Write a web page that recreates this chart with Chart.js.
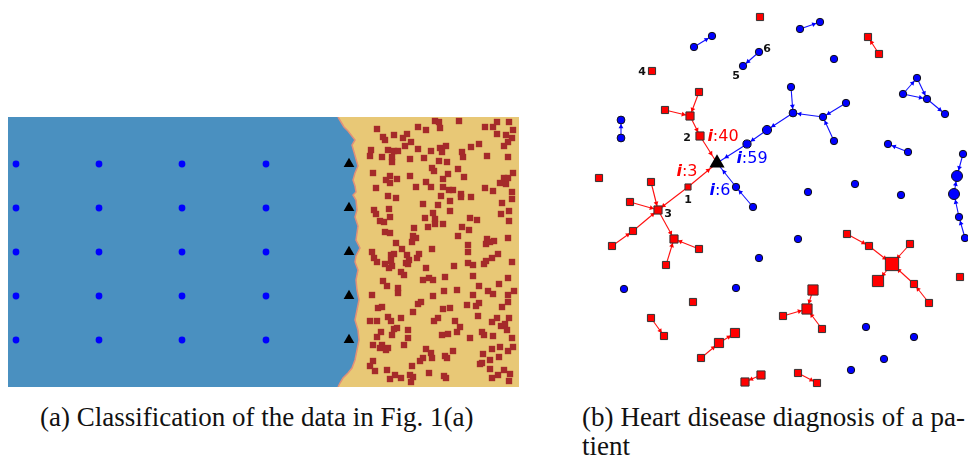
<!DOCTYPE html>
<html><head><meta charset="utf-8">
<script src="https://cdn.jsdelivr.net/npm/chart.js@4"></script>
<style>
html,body{margin:0;padding:0;background:#fff;width:968px;height:459px;overflow:hidden}
#left{position:absolute;left:8px;top:117px;background:#e8c876}
#right{position:absolute;left:580px;top:0}
.cap{position:absolute;font-family:"Liberation Serif","Times New Roman",serif;font-size:27px;line-height:30px;color:#111;white-space:nowrap}
</style></head><body>
<canvas id="left" width="511" height="270"></canvas>
<canvas id="right" width="388" height="400"></canvas>
<div class="cap" style="left:40px;top:402px">(a) Classification of the data in Fig. 1(a)</div>
<div class="cap" style="left:582px;top:402px;width:383px;text-align:justify;text-align-last:justify">(b) Heart disease diagnosis of a pa-</div>
<div class="cap" style="left:582px;top:431px">tient</div>
<script>
// ================= Panel (a): classification =================
const dotColsX = [16, 99, 182, 266];
const dotRowsY = [164, 208, 252, 296, 340];
const testColX = 349;
const boundaryX = [338,341,344,348,355,352,354,358,355,353,355,356,353,356,357,355,358,356,360,356,355,358,356,357,359,357,355,358,359,357,355,352,348,343,340,338];
const boundaryY = [117,122,127,131,140,145,152,166,173,180,186,192,195,200,210,217,226,240,248,256,262,270,280,290,300,310,320,330,340,350,360,368,373,378,383,387];
const classBSquares = [
[377,129],[418,127],[426,130],[435,121],[439,122],[440,128],[459,121],[485,127],[493,127],[497,122],[509,122],[513,130],[506,135],[512,138],[508,142],[497,134],[383,137],[385,140],[394,135],[403,138],[407,134],[411,142],[405,146],[371,150],[370,156],[382,157],[388,150],[392,157],[394,151],[398,151],[392,162],[418,149],[431,151],[440,148],[442,152],[446,146],[462,152],[463,157],[471,147],[479,144],[487,156],[504,146],[508,157],[410,159],[424,158],[439,161],[447,162],[432,168],[434,171],[458,169],[443,179],[448,174],[464,177],[373,173],[390,176],[386,180],[390,183],[397,179],[410,176],[426,182],[431,187],[416,187],[376,188],[443,187],[449,190],[453,190],[461,194],[485,188],[493,191],[500,183],[504,178],[506,184],[513,173],[512,192],[508,178],[388,196],[396,198],[441,196],[461,197],[471,197],[450,201],[423,204],[438,205],[502,203],[512,199],
[374,210],[376,214],[389,209],[380,221],[384,222],[390,217],[425,218],[433,213],[435,219],[428,227],[435,224],[443,224],[450,211],[470,218],[477,220],[462,227],[469,230],[501,214],[509,211],[509,221],[385,232],[390,233],[414,228],[413,236],[416,238],[412,242],[396,243],[402,249],[432,249],[458,236],[468,245],[468,252],[487,239],[486,244],[490,242],[494,241],[508,238],[372,252],[374,258],[377,262],[391,255],[394,254],[391,261],[385,264],[389,268],[392,266],[407,255],[409,260],[406,263],[408,264],[417,258],[419,254],[426,268],[454,266],[468,263],[473,265],[484,264],[486,261],[492,258],[498,254],[512,262],[401,272],[404,275],[423,280],[429,278],[433,280],[445,277],[473,276],[508,278],[383,281],[387,286],[398,288],[398,293],[372,295],[433,296],[444,291],[457,290],[479,286],[488,291],[493,294],[499,284],[508,295],[514,291],[473,295],
[378,308],[382,307],[418,304],[421,302],[443,309],[450,308],[467,305],[476,306],[479,303],[502,307],[508,302],[370,321],[377,321],[388,317],[391,321],[401,318],[413,312],[438,318],[434,321],[455,321],[460,327],[457,332],[478,316],[492,322],[497,318],[501,326],[505,324],[509,318],[507,330],[381,332],[377,337],[392,335],[394,329],[397,328],[408,330],[408,338],[442,335],[448,334],[470,338],[482,332],[484,335],[493,336],[512,338],[373,345],[382,345],[380,348],[388,348],[386,350],[404,345],[426,349],[431,353],[432,358],[423,358],[420,361],[445,356],[447,358],[453,351],[483,354],[490,360],[492,349],[500,347],[513,347],[508,351],[499,357],[373,361],[370,366],[375,371],[387,370],[390,379],[395,375],[401,378],[410,375],[412,366],[413,377],[411,382],[429,373],[444,376],[446,378],[480,364],[482,363],[490,369],[498,375],[492,378],[504,370],[510,374],[509,381]
];

// ================= Panel (b): patient graph =================
const redNodes = [[760,17],[868,37],[879,54],[652,71],[699,92],[665,110],[690,116],[700,136],[599,178],[651,182],[688,187],[630,202],[658,210],[633,231],[612,246],[674,239],[699,249],[666,265],[847,234],[869,246],[910,244],[892,264],[878,281],[914,284],[929,303],[960,277],[693,302],[813,290],[807,309],[783,316],[822,329],[651,318],[664,336],[735,333],[719,343],[701,358],[761,375],[745,382],[798,373],[817,383]];
const redWeight = [7,7,7,7,7,7,8,8,7,7,6,7,8,7,7,8,7,7,7,7,7,13,11,7,7,7,7,10,10,7,7,7,7,9,9,7,8,8,7,7];
const blueNodes = [[800,29],[820,22],[694,47],[712,36],[759,52],[743,66],[834,59],[917,78],[903,94],[927,99],[945,114],[791,87],[793,113],[846,103],[823,117],[834,141],[767,130],[747,144],[621,120],[621,138],[888,144],[908,152],[963,154],[957,176],[954,194],[959,217],[965,238],[736,187],[753,207],[808,192],[855,184],[901,195],[798,239],[759,258],[624,289],[736,288],[866,327],[914,337],[884,359],[851,370]];
const blueWeight = [3.7,3.7,3.7,3.7,3.7,3.7,3.7,3.7,3.7,3.7,3.7,3.7,3.9,3.7,3.7,3.7,4.6,4.1,3.9,3.9,3.7,3.7,3.7,5.5,5.5,3.7,3.7,3.7,3.7,3.7,3.7,3.7,3.7,3.7,3.7,3.7,3.7,3.7,3.7,3.7];
const patient = [717,163];
const redEdges = [['r5','r6'],['r4','r6'],['r6','r7'],['r7','T'],['r10','T'],['r10','r12'],['r9','r12'],['r11','r12'],['r14','r13'],['r13','r12'],['r12','r15'],['r16','r15'],['r17','r15'],['r2','r1'],['r18','r19'],['r19','r21'],['r20','r21'],['r21','r22'],['r24','r23'],['r23','r21'],['r27','r28'],['r29','r28'],['r30','r28'],['r31','r32'],['r35','r34'],['r34','r33'],['r36','r37'],['r38','r39']];
const blueEdges = [['b2','b3'],['b0','b1'],['b4','b5'],['b8','b7'],['b8','b9'],['b7','b9'],['b9','b10'],['b11','b12'],['b14','b12'],['b13','b14'],['b15','b14'],['b12','b16'],['b16','b17'],['b17','T'],['b19','b18'],['b21','b20'],['b22','b23'],['b24','b23'],['b25','b24'],['b26','b25'],['b27','T'],['b28','b27']];
const nodeLabels = [['1',688,200],['2',687,138],['3',668,214],['4',642,72],['5',736,76],['6',767,49]];
const influenceLabels = [['40','r',723,137],['59','b',752,159],['3','r',687,172],['6','b',720,191]];

// ---------- build panel (a) ----------
const dots = [];
dotRowsY.forEach(y => dotColsX.forEach(x => dots.push({x, y})));
const tests = dotRowsY.map(y => ({x: testColX, y}));
const poly = [{x:8,y:117}].concat(boundaryX.map((x,i)=>({x, y:boundaryY[i]}))).concat([{x:8,y:387}]);
const bnd = boundaryX.map((x,i)=>({x, y:boundaryY[i]}));

const base = {
  responsive:false, animation:false, events:[],
  layout:{padding:0, autoPadding:false},
  plugins:{legend:{display:false}, tooltip:{enabled:false}},
};
new Chart(document.getElementById('left'), {
  type:'scatter',
  data:{datasets:[
    {data:tests, pointStyle:'triangle', pointRadius:6.2, backgroundColor:'#000', borderColor:'#000', borderWidth:0, order:0},
    {data:dots, pointStyle:'circle', pointRadius:3.4, backgroundColor:'#0000ff', borderWidth:0, order:1},
    {data:classBSquares.map(([x,y])=>({x,y})), pointStyle:'rect', pointRadius:4.5, backgroundColor:'#a52a2a', borderWidth:0, order:2},
    {data:bnd, showLine:true, pointRadius:0, borderColor:'#e0907a', borderWidth:1.5, fill:false, order:3},
    {data:poly, showLine:true, pointRadius:0, borderWidth:0, borderColor:'rgba(0,0,0,0)', backgroundColor:'#4a90c0', fill:'shape', order:4}
  ]},
  options:Object.assign({}, base, {
    scales:{
      x:{type:'linear', min:8, max:519, display:false},
      y:{type:'linear', min:117, max:387, reverse:true, display:false}
    }
  })
});

// ---------- build panel (b) ----------
const nodeMap = {T:{x:patient[0], y:patient[1], r:8.5}};
redNodes.forEach(([x,y],i)=>nodeMap['r'+i]={x,y,r:redWeight[i]/2});
blueNodes.forEach(([x,y],i)=>nodeMap['b'+i]={x,y,r:blueWeight[i]});

function arrows(edges){
  const pts=[], rot=[];
  edges.forEach(([s,t])=>{
    const a=nodeMap[s], b=nodeMap[t];
    const dx=b.x-a.x, dy=b.y-a.y, L=Math.hypot(dx,dy);
    const ux=dx/L, uy=dy/L, off=b.r+3;
    pts.push({x:b.x-ux*off, y:b.y-uy*off});
    rot.push(Math.atan2(ux,-uy)*180/Math.PI);
  });
  return {pts, rot};
}
const ra = arrows(redEdges), ba = arrows(blueEdges);
const edgeSets = [];
redEdges.forEach(([s,t])=>edgeSets.push({data:[{x:nodeMap[s].x,y:nodeMap[s].y},{x:nodeMap[t].x,y:nodeMap[t].y}], showLine:true, pointRadius:0, borderColor:'#ff1010', borderWidth:1.1, order:5}));
blueEdges.forEach(([s,t])=>edgeSets.push({data:[{x:nodeMap[s].x,y:nodeMap[s].y},{x:nodeMap[t].x,y:nodeMap[t].y}], showLine:true, pointRadius:0, borderColor:'#1010ff', borderWidth:1.1, order:5}));

const labelPlugin = {
  id:'graphLabels',
  afterDatasetsDraw(chart){
    const {ctx, scales:{x, y}} = chart;
    ctx.save();
    ctx.textBaseline='middle';
    ctx.textAlign='center';
    ctx.fillStyle='#111';
    ctx.font='bold 11px "DejaVu Sans"';
    nodeLabels.forEach(([t,lx,ly])=>ctx.fillText(t, x.getPixelForValue(lx), y.getPixelForValue(ly)));
    ctx.textAlign='left';
    influenceLabels.forEach(([t,c,lx,ly])=>{
      ctx.fillStyle = c==='r' ? '#ff0000' : '#0000ff';
      const f1='italic bold 16px "DejaVu Sans"', f2='16px "DejaVu Sans"';
      ctx.font=f1; const w1=ctx.measureText('i').width;
      ctx.font=f2; const w2=ctx.measureText(':'+t).width;
      const px=x.getPixelForValue(lx)-(w1+w2)/2, py=y.getPixelForValue(ly);
      ctx.font=f1; ctx.fillText('i', px, py);
      ctx.font=f2; ctx.fillText(':'+t, px+w1, py);
    });
    ctx.restore();
  }
};

new Chart(document.getElementById('right'), {
  type:'scatter',
  data:{datasets:[
    {data:[{x:patient[0],y:patient[1]}], pointStyle:'triangle', pointRadius:8.8, backgroundColor:'#000', borderColor:'#000', borderWidth:0, order:0},
    {data:redNodes.map(([x,y])=>({x,y})), pointStyle:'rect', pointRadius:redWeight.map(s=>s*0.72), backgroundColor:'#ff0000', borderColor:'#333', borderWidth:1, order:1},
    {data:blueNodes.map(([x,y])=>({x,y})), pointStyle:'circle', pointRadius:blueWeight, backgroundColor:'#0000ff', borderColor:'#111', borderWidth:1, order:1},
    {data:ra.pts, pointStyle:'triangle', pointRadius:2.8, pointRotation:ra.rot, backgroundColor:'#ff0000', borderWidth:0, order:3},
    {data:ba.pts, pointStyle:'triangle', pointRadius:2.8, pointRotation:ba.rot, backgroundColor:'#0000ff', borderWidth:0, order:3}
  ].concat(edgeSets)},
  options:Object.assign({}, base, {
    scales:{
      x:{type:'linear', min:580, max:968, display:false},
      y:{type:'linear', min:0, max:400, reverse:true, display:false}
    }
  }),
  plugins:[labelPlugin]
});
</script>
</body></html>
